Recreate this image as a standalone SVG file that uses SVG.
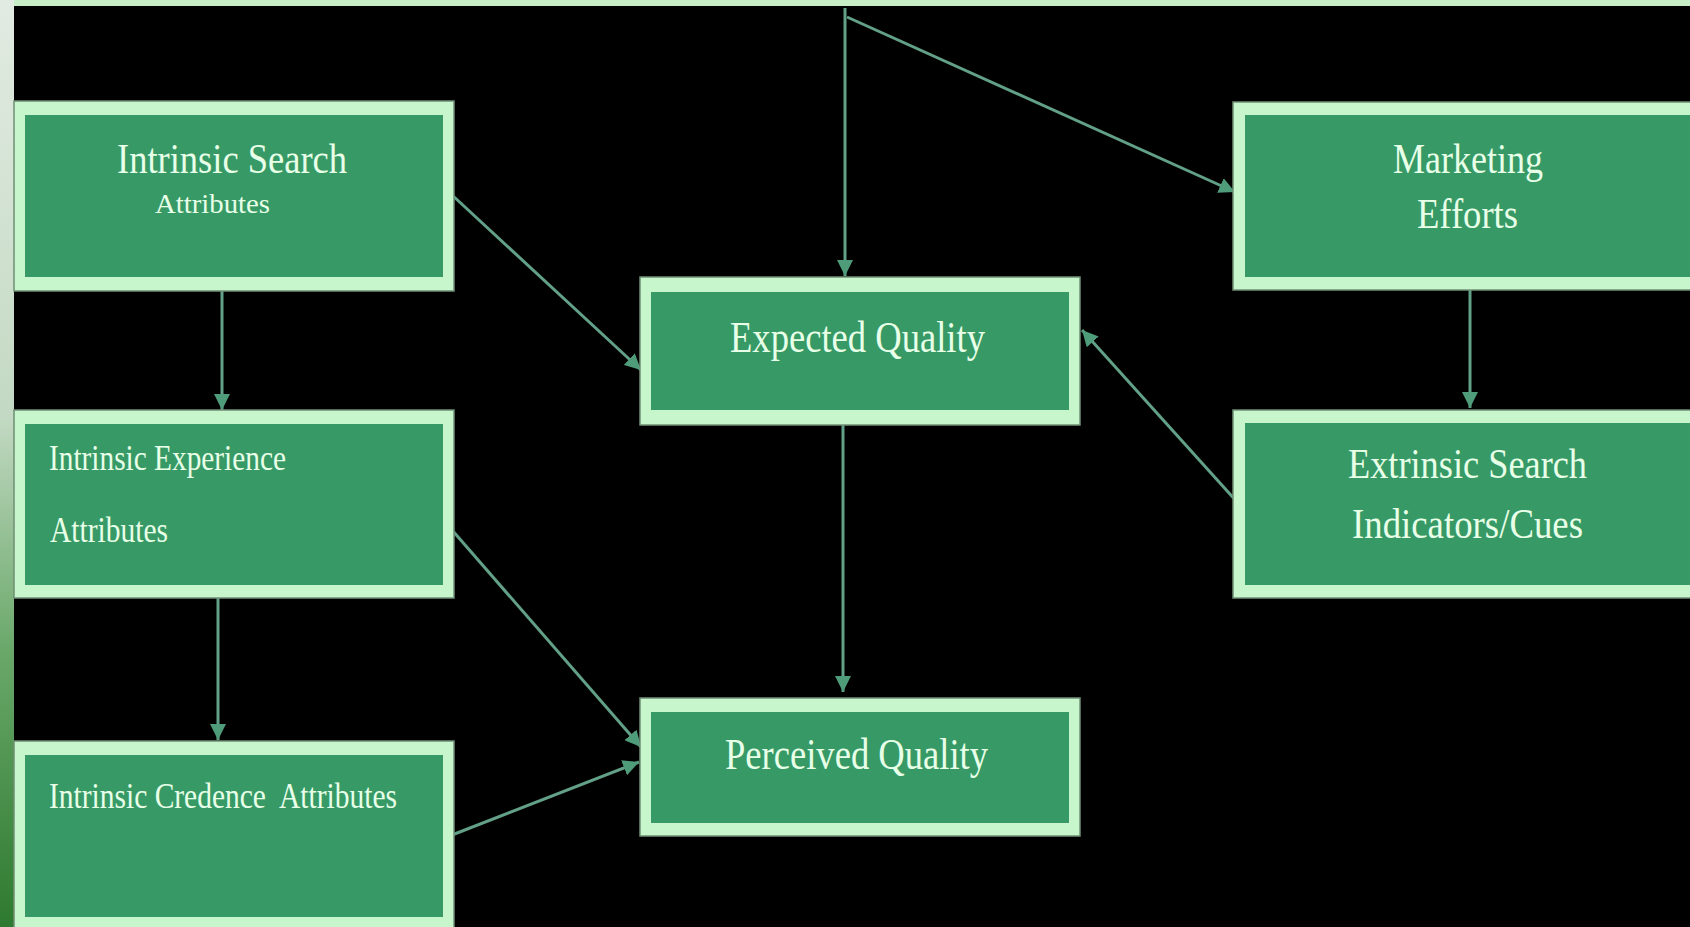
<svg xmlns="http://www.w3.org/2000/svg" width="1690" height="927" viewBox="0 0 1690 927">
<defs>
<linearGradient id="strip" x1="0" y1="0" x2="0" y2="1">
<stop offset="0" stop-color="#e2ebe2"/>
<stop offset="0.45" stop-color="#c3d9c3"/>
<stop offset="0.7" stop-color="#6aa86a"/>
<stop offset="1" stop-color="#2e7a30"/>
</linearGradient>
<marker id="ah" markerUnits="userSpaceOnUse" markerWidth="18" markerHeight="16" refX="16" refY="8" orient="auto">
<path d="M0,0 L16,8 L0,16 Z" fill="#4e9c7a"/>
</marker>
<style>
.outer{fill:#c8f6cc;stroke:#6f8f74;stroke-width:1.5}
.inner{fill:#379a66}
.t{font-family:"Liberation Serif","Times New Roman",serif;fill:#e8ffe8}
.c{stroke:#62a088;stroke-width:3;fill:none;marker-end:url(#ah)}
</style>
</defs>
<rect width="1690" height="927" fill="#000"/>
<rect x="0" y="0" width="1690" height="6" fill="#c8eec8"/>
<rect x="0" y="0" width="14" height="927" fill="url(#strip)"/>

<g id="connectors">
<line class="c" x1="845" y1="8" x2="845" y2="276"/>
<line class="c" x1="847" y1="17" x2="1235" y2="192"/>
<line class="c" x1="222" y1="291" x2="222" y2="410"/>
<line class="c" x1="218" y1="598" x2="218" y2="740"/>
<line class="c" x1="452" y1="195" x2="641" y2="370"/>
<line class="c" x1="452" y1="530" x2="641" y2="747"/>
<line class="c" x1="452" y1="835" x2="639" y2="762"/>
<line class="c" x1="843" y1="425" x2="843" y2="692"/>
<line class="c" x1="1470" y1="277" x2="1470" y2="408"/>
<line class="c" x1="1238" y1="503" x2="1082" y2="330"/>
</g>

<g id="intrinsic-search">
<rect class="outer" x="14" y="101" width="440" height="190"/>
<rect class="inner" x="25" y="115" width="418" height="162"/>
<text class="t" x="117" y="173" font-size="42" textLength="230" lengthAdjust="spacingAndGlyphs">Intrinsic Search</text>
<text class="t" x="155" y="213" font-size="28" textLength="115" lengthAdjust="spacingAndGlyphs">Attributes</text>
</g>

<g id="intrinsic-experience">
<rect class="outer" x="14" y="410" width="440" height="188"/>
<rect class="inner" x="25" y="424" width="418" height="161"/>
<text class="t" x="49" y="470" font-size="36" textLength="237" lengthAdjust="spacingAndGlyphs">Intrinsic Experience</text>
<text class="t" x="50" y="542" font-size="36" textLength="118" lengthAdjust="spacingAndGlyphs">Attributes</text>
</g>

<g id="intrinsic-credence">
<rect class="outer" x="14" y="741" width="440" height="192"/>
<rect class="inner" x="25" y="755" width="418" height="162"/>
<text class="t" x="49" y="808" font-size="36" textLength="348" lengthAdjust="spacingAndGlyphs" xml:space="preserve">Intrinsic Credence  Attributes</text>
</g>

<g id="expected-quality">
<rect class="outer" x="640" y="277" width="440" height="148"/>
<rect class="inner" x="651" y="292" width="418" height="118"/>
<text class="t" x="730" y="352" font-size="44" textLength="255" lengthAdjust="spacingAndGlyphs">Expected Quality</text>
</g>

<g id="perceived-quality">
<rect class="outer" x="640" y="698" width="440" height="138"/>
<rect class="inner" x="651" y="712" width="418" height="111"/>
<text class="t" x="725" y="769" font-size="44" textLength="263" lengthAdjust="spacingAndGlyphs">Perceived Quality</text>
</g>

<g id="marketing-efforts">
<rect class="outer" x="1233" y="102" width="474" height="188"/>
<rect class="inner" x="1245" y="115" width="450" height="162"/>
<text class="t" x="1393" y="173" font-size="42" textLength="150" lengthAdjust="spacingAndGlyphs">Marketing</text>
<text class="t" x="1417" y="228" font-size="42" textLength="101" lengthAdjust="spacingAndGlyphs">Efforts</text>
</g>

<g id="extrinsic-search">
<rect class="outer" x="1233" y="410" width="474" height="188"/>
<rect class="inner" x="1245" y="423" width="450" height="162"/>
<text class="t" x="1348" y="478" font-size="42" textLength="239" lengthAdjust="spacingAndGlyphs">Extrinsic Search</text>
<text class="t" x="1352" y="538" font-size="42" textLength="231" lengthAdjust="spacingAndGlyphs">Indicators/Cues</text>
</g>
</svg>
